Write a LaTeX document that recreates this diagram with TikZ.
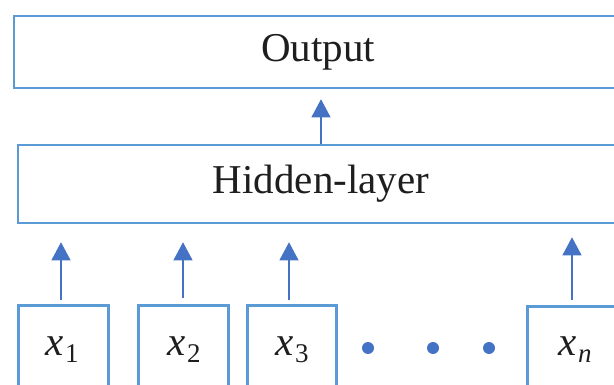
\documentclass[tikz,border=0pt]{standalone}
\usepackage{fontspec}
\setmainfont{Liberation Serif}
\usetikzlibrary{arrows.meta}
\definecolor{boxblue}{RGB}{91,155,213}
\definecolor{arrblue}{RGB}{68,114,196}
\definecolor{txt}{RGB}{30,30,30}
\newcommand{\varsub}[1]{\textit{x}\kern1.5pt\raisebox{-7pt}{\fontsize{27}{30}\selectfont #1}}
\tikzset{
  layerbox/.style={draw=boxblue, line width=2.6pt, rectangle, inner sep=0pt, text=txt,
    font=\fontsize{41}{46}\selectfont},
  inbox/.style={draw=boxblue, line width=2.6pt, rectangle, inner sep=0pt},
  intext/.style={text=txt, font=\fontsize{41}{45}\selectfont, anchor=base, inner sep=0pt},
  arr/.style={draw=arrblue, line width=1.1pt, -{Triangle[width=19pt,length=18pt]}, arrblue},
  dotmark/.style={circle, fill=arrblue, inner sep=0pt, minimum size=12pt}
}
\begin{document}
\begin{tikzpicture}[x=1pt,y=-1pt]
\useasboundingbox (0,0) rectangle (614,385);
\clip (0,0) rectangle (614,385);
\fill[white] (0,0) rectangle (614,385);
% layers
\node[layerbox, minimum width=608pt, minimum height=72pt] (out) at (318,52) {Output};
\node[layerbox, minimum width=606pt, minimum height=78pt] (hid) at (321,184) {Hidden-layer};
% inputs
\node[inbox, minimum width=90pt, minimum height=100pt, anchor=north west] (x1) at (17,304) {};
\node[inbox, minimum width=90pt, minimum height=100pt, anchor=north west] (x2) at (137,304) {};
\node[inbox, minimum width=89pt, minimum height=100pt, anchor=north west] (x3) at (246,304) {};
\node[inbox, minimum width=94pt, minimum height=100pt, anchor=north west] (xn) at (526,305) {};
\node[intext] (t1) at (62,355) {\varsub{1}};
\node[intext] (t2) at (184,355) {\varsub{2}};
\node[intext] (t3) at (292,355) {\varsub{3}};
\node[intext] (tn) at (575,355) {\varsub{\textit{n}}};
% dots
\node[dotmark] (d1) at (368,348) {};
\node[dotmark] (d2) at (433,348) {};
\node[dotmark] (d3) at (489,348) {};
% arrows
\draw[arr, shorten >=10pt] (hid.north) -- (hid.north |- out.south);
\coordinate (a1) at (61,300);
\coordinate (a2) at (183,298);
\coordinate (a3) at (289,300);
\coordinate (an) at (572,300);
\draw[arr, shorten >=18pt] (a1) -- (a1 |- hid.south);
\draw[arr, shorten >=18pt] (a2) -- (a2 |- hid.south);
\draw[arr, shorten >=18pt] (a3) -- (a3 |- hid.south);
\draw[arr, shorten >=13pt] (an) -- (an |- hid.south);
\end{tikzpicture}
\end{document}
